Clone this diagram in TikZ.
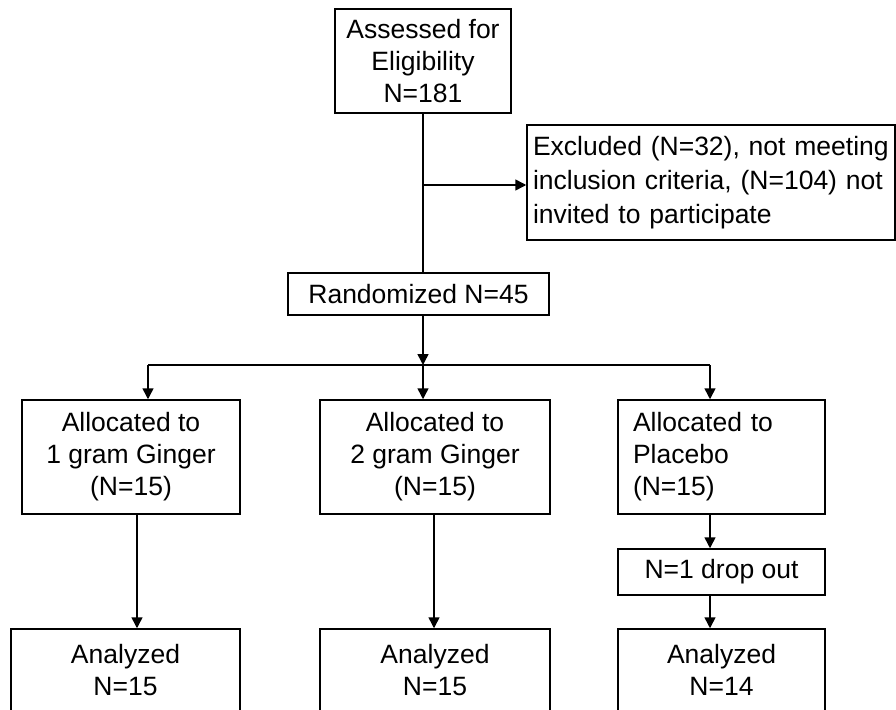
\documentclass[tikz,border=0pt]{standalone}
\usepackage{fontspec}
\setmainfont{Liberation Sans}
\usetikzlibrary{arrows.meta}

\tikzset{
  box/.style={draw,line width=1.5pt,inner sep=0pt,align=center,
    font=\fontsize{26.5}{32}\selectfont},
  leftbox/.style={box,align=left},
  ln/.style={line width=1.5pt},
  arr/.style={line width=1.5pt,-{Triangle[length=11pt,width=11pt]}},
}

\begin{document}
\begin{tikzpicture}[x=1pt,y=-1pt,line cap=butt,line join=miter]
  \useasboundingbox (0,0) rectangle (896,709);
  \clip (0,0) rectangle (896,709);
  % boxes
  \node[box,minimum width=176,minimum height=104] (assess) at (423,61) {Assessed for\\Eligibility\\N=181};
  \node[leftbox,text width=356,inner xsep=6,minimum height=115,
    font=\fontsize{26.5}{34}\selectfont] (excl) at (711,182.5)
    {Excluded (N=32), not meeting\\inclusion criteria, (N=104) not\\invited to participate};
  \node[box,minimum width=261,minimum height=42] (rand) at (418.5,294) {Randomized N=45};
  \node[box,minimum width=218,minimum height=114] (ging1) at (131,457) {Allocated to\\1 gram Ginger\\(N=15)};
  \node[box,minimum width=230,minimum height=114] (ging2) at (435,457) {Allocated to\\2 gram Ginger\\(N=15)};
  \node[leftbox,text width=177,inner xsep=15,minimum height=114] (plac) at (721.5,457) {Allocated to\\Placebo\\(N=15)};
  \node[box,minimum width=207,minimum height=46] (drop) at (721.5,572) {N=1 drop out};
  \node[box,minimum width=229,minimum height=82] (ana1) at (125.5,670) {Analyzed\\N=15};
  \node[box,minimum width=230,minimum height=82] (ana2) at (435,670) {Analyzed\\N=15};
  \node[box,minimum width=207,minimum height=82] (ana3) at (721.5,670) {Analyzed\\N=14};
  % branch points
  \coordinate (trunk) at (423,185);
  \coordinate (split) at (423,365);
  \coordinate (br1) at (148,365);
  \coordinate (br3) at (710,365);
  \coordinate (down1) at (137,0);
  \coordinate (down2) at (434,0);
  % connectors
  \draw[ln] (assess.south) -- (assess.south |- rand.north);
  \draw[arr] (trunk) -- (trunk -| excl.west);
  \draw[arr] (split |- rand.south) -- (split);
  \draw[ln] (br1) -- (br3);
  \draw[arr] (br1) -- (br1 |- ging1.north);
  \draw[arr] (split) -- (split |- ging2.north);
  \draw[arr] (br3) -- (br3 |- plac.north);
  \draw[arr] (down1 |- ging1.south) -- (down1 |- ana1.north);
  \draw[arr] (down2 |- ging2.south) -- (down2 |- ana2.north);
  \draw[arr] (br3 |- plac.south) -- (br3 |- drop.north);
  \draw[arr] (br3 |- drop.south) -- (br3 |- ana3.north);
\end{tikzpicture}
\end{document}
